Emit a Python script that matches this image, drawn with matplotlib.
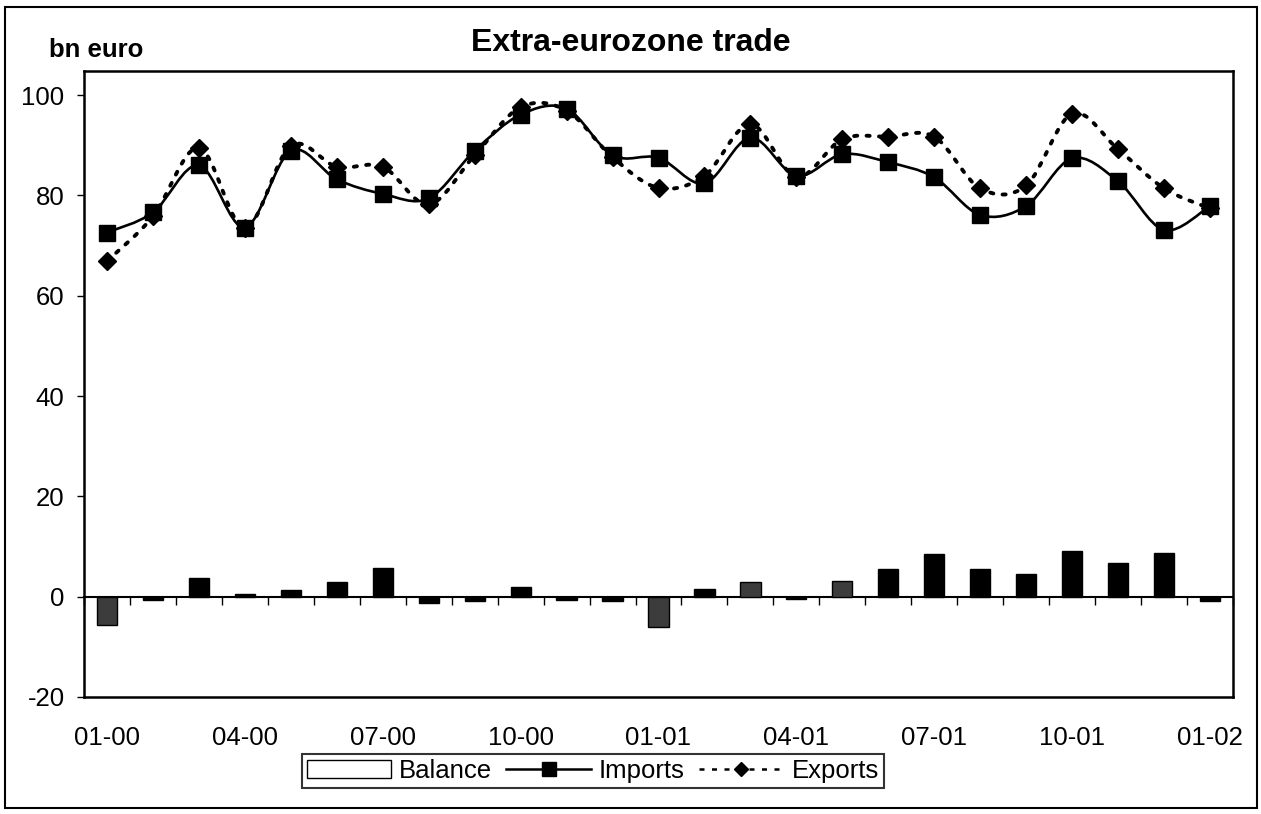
import numpy as np
import matplotlib
matplotlib.use('Agg')
import matplotlib.pyplot as plt
from matplotlib.path import Path
from matplotlib.patches import PathPatch, Rectangle, Patch
from matplotlib.lines import Line2D

plt.rcParams['font.family'] = ['Liberation Sans', 'DejaVu Sans']

months = ['01-00', '02-00', '03-00', '04-00', '05-00', '06-00', '07-00', '08-00', '09-00',
          '10-00', '11-00', '12-00', '01-01', '02-01', '03-01', '04-01', '05-01', '06-01',
          '07-01', '08-01', '09-01', '10-01', '11-01', '12-01', '01-02']

imports = [72.6, 76.6, 86.0, 73.6, 88.9, 83.2, 80.3, 79.4, 88.9, 96.1, 97.3, 88.0, 87.5,
           82.4, 91.5, 83.9, 88.2, 86.6, 83.6, 76.1, 77.9, 87.4, 82.8, 73.1, 77.9]

exports = [66.9, 75.8, 89.5, 73.5, 89.9, 85.7, 85.7, 78.2, 88.0, 97.6, 96.9, 87.6, 81.5,
           83.9, 94.2, 83.7, 91.2, 91.7, 91.7, 81.4, 82.0, 96.3, 89.2, 81.4, 77.4]

balance = [-5.6, -0.7, 3.8, 0.6, 1.4, 2.9, 5.8, -1.2, -0.9, 1.9, -0.6, -0.8, -6.0,
           1.6, 3.0, -0.5, 3.2, 5.5, 8.6, 5.6, 4.5, 9.2, 6.7, 8.8, -0.9]

yticks = [-20, 0, 20, 40, 60, 80, 100]


def smooth_path(xs, ys):
    # excel-style smoothed line: cubic bezier through every point
    p = np.column_stack([xs, ys]).astype(float)
    n = len(p)
    verts = [p[0]]
    codes = [Path.MOVETO]
    for i in range(n - 1):
        prev = p[i - 1] if i > 0 else p[i]
        nxt = p[i + 2] if i + 2 < n else p[i + 1]
        c1 = p[i] + (p[i + 1] - prev) / 6.0
        c2 = p[i + 1] - (nxt - p[i]) / 6.0
        verts += [c1, c2, p[i + 1]]
        codes += [Path.CURVE4] * 3
    return Path(verts, codes)


fig = plt.figure(figsize=(12.61, 8.14), dpi=100)
ax = fig.add_axes([84 / 1261, 117 / 814, 1149 / 1261, 626 / 814])

x = np.arange(len(months))
ymin, ymax = -20, 104.8

# bars
shaded = {0, 12, 14, 16}
colors = ['#3c3c3c' if i in shaded else 'black' for i in x]
ax.bar(x, balance, width=0.44, color=colors, edgecolor='black', linewidth=1, zorder=2)

# lines
imp_path = smooth_path(x, imports)
ax.add_patch(PathPatch(imp_path, fill=False, edgecolor='black', linewidth=1.9, zorder=3))
exp_path = smooth_path(x, exports)
ax.add_patch(PathPatch(exp_path, fill=False, edgecolor='black', linewidth=2.8,
                       linestyle=(0, (0.8, 2.4)), capstyle='round', zorder=3))
ax.plot(x, imports, linestyle='none', marker='s', markersize=11, color='black', zorder=4)
ax.plot(x, exports, linestyle='none', marker='D', markersize=9.5, color='black', zorder=4)

ax.set_xlim(-0.5, len(months) - 0.5)
ax.set_ylim(ymin, ymax)

for s in ax.spines.values():
    s.set_linewidth(1.8)

ax.set_yticks(yticks)
ax.set_yticklabels([str(v) for v in yticks])
ax.tick_params(axis='y', direction='out', length=5, width=1, pad=9, labelsize=18.5)

ax.set_xticks(x[::3])
ax.set_xticklabels(months[::3])
ax.tick_params(axis='x', length=0, pad=21, labelsize=18.5)

# category axis at y = 0 with tick marks between months
zero_ax = ax.secondary_xaxis((0 - ymin) / (ymax - ymin))
zero_ax.set_xticks(np.arange(-0.5, len(months), 1.0))
zero_ax.set_xticklabels([])
zero_ax.tick_params(direction='out', length=6, width=1)
zero_ax.spines['bottom'].set_linewidth(1.5)

fig.text(0.0385, 0.938, 'bn euro', fontsize=18.5, fontweight='bold', va='center', ha='left')
fig.text(0.500, 0.947, 'Extra-eurozone trade', fontsize=23, fontweight='bold',
         va='center', ha='center')

handles = [
    Patch(facecolor='white', edgecolor='black', linewidth=1),
    Line2D([], [], color='black', linewidth=1.8, marker='s', markersize=10),
    Line2D([], [], color='black', linewidth=1.8, linestyle=(0, (2, 3)), marker='D', markersize=7.5),
]
leg = fig.legend(handles, ['Balance', 'Imports', 'Exports'], ncol=3,
                 loc='center', bbox_to_anchor=(0.470, 0.053), fontsize=18.5,
                 frameon=True, fancybox=False, handlelength=3.3, handletextpad=0.3,
                 columnspacing=0.55, borderpad=0.2, borderaxespad=0, handleheight=0.7)
leg.get_frame().set_edgecolor('black')
leg.get_frame().set_linewidth(1.5)

# outer border of the chart
fig.add_artist(Rectangle((5 / 1261, 6 / 814), 1252 / 1261, 801 / 814, transform=fig.transFigure,
                         fill=False, edgecolor='black', linewidth=1.5))

fig.savefig('out.png', dpi=100)
